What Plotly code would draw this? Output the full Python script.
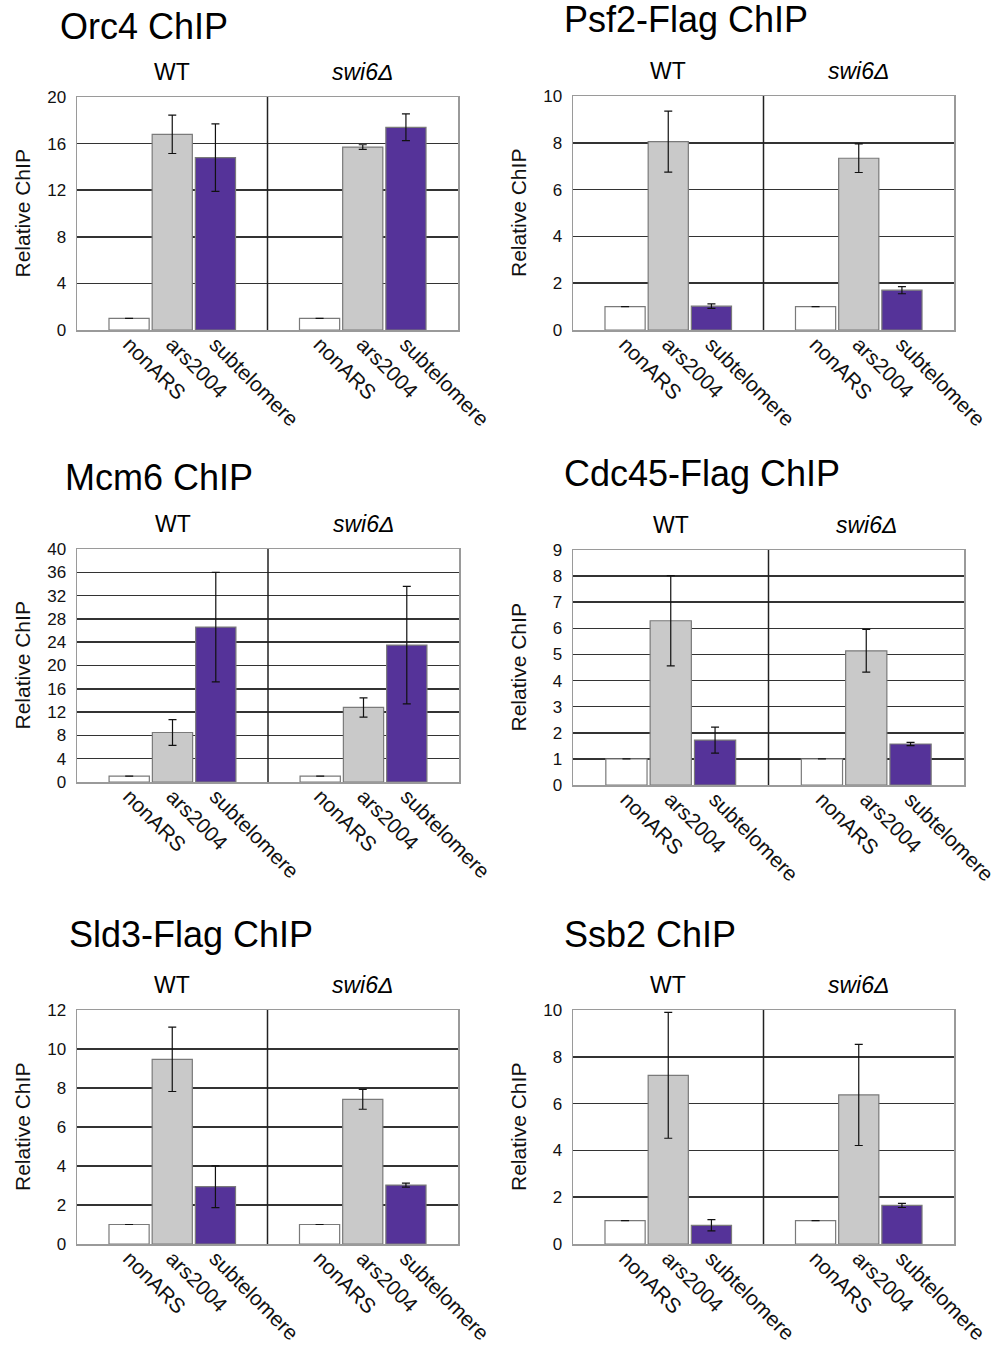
import plotly.graph_objects as go

# ---------------- data ----------------
groups = ["WT", "swi6Δ"]
group_labels = ["WT", "<i>swi6Δ</i>"]
sites = ["nonARS", "ars2004", "subtelomere"]
site_colors = ["#ffffff", "#c9c9c9", "#553399"]

panel_titles = ["Orc4 ChIP", "Psf2-Flag ChIP", "Mcm6 ChIP",
                "Cdc45-Flag ChIP", "Sld3-Flag ChIP", "Ssb2 ChIP"]

# values: rows = groups (WT, swi6Δ), cols = sites (nonARS, ars2004, subtelomere)
orc4_values = [[1.0, 16.8, 14.8], [1.0, 15.7, 17.4]]
orc4_errors = [[0.0, 1.65, 2.9], [0.0, 0.2, 1.15]]

psf2_values = [[1.0, 8.05, 1.02], [1.0, 7.34, 1.70]]
psf2_errors = [[0.0, 1.3, 0.1], [0.0, 0.61, 0.15]]

mcm6_values = [[1.0, 8.5, 26.6], [1.0, 12.8, 23.5]]
mcm6_errors = [[0.0, 2.2, 9.4], [0.0, 1.65, 10.1]]

cdc45_values = [[1.0, 6.29, 1.72], [1.0, 5.14, 1.57]]
cdc45_errors = [[0.0, 1.73, 0.5], [0.0, 0.82, 0.06]]

sld3_values = [[1.0, 9.47, 2.94], [1.0, 7.42, 3.02]]
sld3_errors = [[0.0, 1.65, 1.07], [0.0, 0.51, 0.1]]

ssb2_values = [[1.0, 7.21, 0.80], [1.0, 6.37, 1.65]]
ssb2_errors = [[0.0, 2.69, 0.24], [0.0, 2.16, 0.09]]

y_max = [20, 10, 40, 9, 12, 10]
y_step = [4, 2, 4, 1, 2, 2]

all_values = [orc4_values, psf2_values, mcm6_values, cdc45_values, sld3_values, ssb2_values]
all_errors = [orc4_errors, psf2_errors, mcm6_errors, cdc45_errors, sld3_errors, ssb2_errors]

# ---------------- layout geometry (pixels) ----------------
W, H = 999, 1351
# (x0, x1, ytop, ybottom) of each plot area
boxes = [(77, 458, 97, 330), (573, 954, 96, 330),
         (77, 459, 549, 782), (573, 964, 550, 785),
         (77, 458, 1010, 1244), (573, 954, 1010, 1244)]
# title (left x, center y)
title_pos = [(58, 26), (562, 19), (63, 477), (562, 474), (67, 934), (562, 934)]

BARGAP = 0.32
GROUPGAP = 0.07
FONT = "Liberation Sans, Arial, Helvetica, sans-serif"

fig = go.Figure()
annotations = []
shapes = []
layout_axes = {}

slot = (1 - BARGAP) / 3.0

for i in range(6):
    xid = "" if i == 0 else str(i + 1)
    lid = str(i + 7)
    x_ref = "x" + xid
    y_ref = "y" + xid
    l_ref = "x" + lid
    vals = all_values[i]
    errs = all_errors[i]
    for k, site in enumerate(sites):
        fig.add_trace(go.Bar(
            x=groups,
            y=[vals[g][k] for g in range(len(groups))],
            error_y=dict(type="data", array=[errs[g][k] for g in range(len(groups))],
                         visible=True, color="#111111", thickness=1.2, width=4),
            marker=dict(color=site_colors[k], line=dict(color="#7a7a7a", width=1.2)),
            name=site, showlegend=False, xaxis=x_ref, yaxis=y_ref,
            hoverinfo="skip",
        ))
    # positions of the individual bar labels on the overlaying linear axis
    tickvals = []
    ticktext = []
    for g in range(len(groups)):
        for k, site in enumerate(sites):
            tickvals.append(g + (k - 1) * slot)
            ticktext.append(site)
    fig.add_trace(go.Scatter(
        x=tickvals, y=[0] * len(tickvals), mode="markers",
        marker=dict(opacity=0, size=1), xaxis=l_ref, yaxis=y_ref,
        showlegend=False, hoverinfo="skip",
    ))

    x0, x1, yt, yb = boxes[i]
    dom_x = [x0 / W, x1 / W]
    dom_y = [1 - yb / H, 1 - yt / H]

    layout_axes["xaxis" + xid] = dict(
        domain=dom_x, anchor=y_ref, type="category",
        categoryorder="array", categoryarray=groups,
        range=[-0.5, 1.5], showticklabels=False, ticks="",
        showgrid=False, zeroline=False,
        showline=True, mirror=True, linecolor="#9a9a9a", linewidth=1.5,
    )
    layout_axes["xaxis" + lid] = dict(
        overlaying=x_ref, anchor=y_ref, side="bottom", type="linear",
        range=[-0.5, 1.5], tickmode="array", tickvals=tickvals, ticktext=ticktext,
        tickangle=45, ticks="", showgrid=False, zeroline=False, showline=False,
        ticklabelstandoff=-3,
        tickfont=dict(family=FONT, size=21, color="#111111"),
    )
    layout_axes["yaxis" + xid] = dict(
        domain=dom_y, anchor=x_ref, range=[0, y_max[i]], dtick=y_step[i], tick0=0,
        showgrid=True, gridcolor="#333333", gridwidth=1.5, zeroline=False,
        showline=True, mirror=True, linecolor="#9a9a9a", linewidth=1.5,
        ticks="", ticklabelstandoff=6,
        tickfont=dict(family=FONT, size=17, color="#111111"),
    )

    # divider between the two strains
    shapes.append(dict(type="line", xref=x_ref, yref=y_ref + " domain",
                       x0=0.5, x1=0.5, y0=0, y1=1,
                       line=dict(color="#222222", width=1.5), layer="above"))

    # panel title
    tx, ty = title_pos[i]
    annotations.append(dict(text=panel_titles[i], xref="paper", yref="paper",
                            x=tx / W, y=1 - ty / H, xanchor="left", yanchor="middle",
                            showarrow=False,
                            font=dict(family=FONT, size=36, color="#000000")))
    # strain labels
    for g, gl in enumerate(group_labels):
        annotations.append(dict(text=gl, xref=x_ref, yref=y_ref + " domain",
                                x=groups[g], y=1, yanchor="middle", yshift=25,
                                xanchor="center", showarrow=False,
                                font=dict(family=FONT, size=23, color="#000000")))
    # y axis title
    annotations.append(dict(text="Relative ChIP", xref="paper", yref="paper",
                            x=(x0 - 55) / W, y=1 - ((yt + yb) / 2) / H,
                            xanchor="center", yanchor="middle", textangle=-90,
                            showarrow=False,
                            font=dict(family=FONT, size=21, color="#111111")))

fig.update_layout(
    width=W, height=H,
    margin=dict(l=0, r=0, t=0, b=0, autoexpand=False),
    paper_bgcolor="#ffffff", plot_bgcolor="#ffffff",
    barmode="group", bargap=BARGAP, bargroupgap=GROUPGAP,
    annotations=annotations, shapes=shapes,
    font=dict(family=FONT),
    **layout_axes,
)

fig.write_html("out.html",
               config={"displayModeBar": False, "staticPlot": True},
               post_script="document.body.style.margin='0';document.body.style.overflow='hidden';")
